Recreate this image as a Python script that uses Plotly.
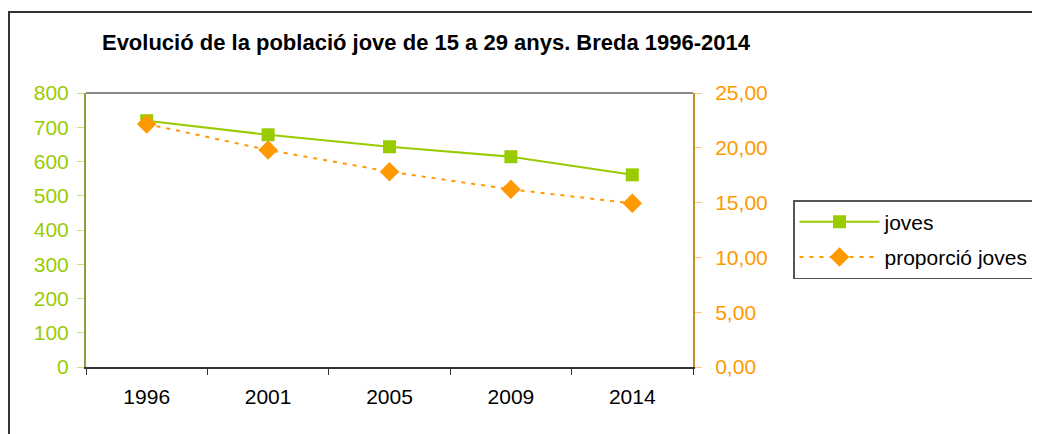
import plotly.graph_objects as go

anys = ["1996", "2001", "2005", "2009", "2014"]
joves = [719, 678, 643, 614, 561]
proporcio = [22.17, 19.80, 17.82, 16.21, 14.93]

verd = "#99cc00"
taronja = "#ff9900"

fig = go.Figure()
fig.add_trace(go.Scatter(x=anys, y=joves, name="joves", mode="lines+markers",
                         legendgroup="a",
                         line=dict(color=verd, width=2),
                         marker=dict(symbol="square", size=13, color=verd)))
fig.add_trace(go.Scatter(x=anys, y=proporcio, name="proporció joves", mode="lines+markers",
                         yaxis="y2", legendgroup="b",
                         line=dict(color=taronja, width=2, dash="4px,6px"),
                         marker=dict(symbol="diamond", size=15, color=taronja)))

# marc exterior del gràfic
fig.add_shape(type="rect", xref="paper", yref="paper",
              x0=(1 - 78) / 607, x1=(1050 - 78) / 607,
              y0=(359 - 445) / 274, y1=(359 - 4) / 274,
              line=dict(color="#333333", width=2), layer="below")
# línia superior de l'àrea del gràfic
fig.add_shape(type="line", xref="paper", yref="paper", x0=0, x1=1, y0=1, y1=1,
              line=dict(color="#888888", width=2))

fig.update_layout(
    title=dict(text="<b>Evolució de la població jove de 15 a 29 anys. Breda 1996-2014</b>",
               x=418 / 1040, xanchor="center", y=1 - 34 / 434, yanchor="middle",
               font=dict(family="Liberation Sans, Arial", size=22, color="black")),
    width=1040, height=434,
    margin=dict(l=78, r=355, t=85, b=75),
    paper_bgcolor="white", plot_bgcolor="white",
    separators=",.",
    font=dict(family="Liberation Sans, Arial", size=21),
    xaxis=dict(type="category", range=[-0.5, 4.5], tickson="boundaries",
               ticks="outside", ticklen=6, tickcolor="#333333",
               showline=True, linecolor="#333333", linewidth=2,
               ticklabelstandoff=10,
               showgrid=False, tickfont=dict(color="black", size=21)),
    yaxis=dict(range=[0, 800], dtick=100, ticks="outside", ticklen=7,
               tickcolor="#c8e07a", showline=True, linecolor="#8c9c40", linewidth=2,
               ticklabelstandoff=4,
               showgrid=False, zeroline=False, tickfont=dict(color=verd, size=21)),
    yaxis2=dict(range=[0, 25], dtick=5, overlaying="y", side="right",
                tickformat=".2f", ticks="outside", ticklen=7, tickcolor="#ffc870",
                showline=True, linecolor="#c8902a", linewidth=2,
                ticklabelstandoff=9,
                showgrid=False, zeroline=False, tickfont=dict(color=taronja, size=21)),
    legend=dict(x=(785 - 78) / 607, xanchor="left", y=(359 - 192) / 274, yanchor="top",
                bordercolor="#555555", borderwidth=1.5, bgcolor="white",
                itemwidth=80, font=dict(color="black", size=21),
                tracegroupgap=5),
    showlegend=True,
)

fig.write_html("out.html")
